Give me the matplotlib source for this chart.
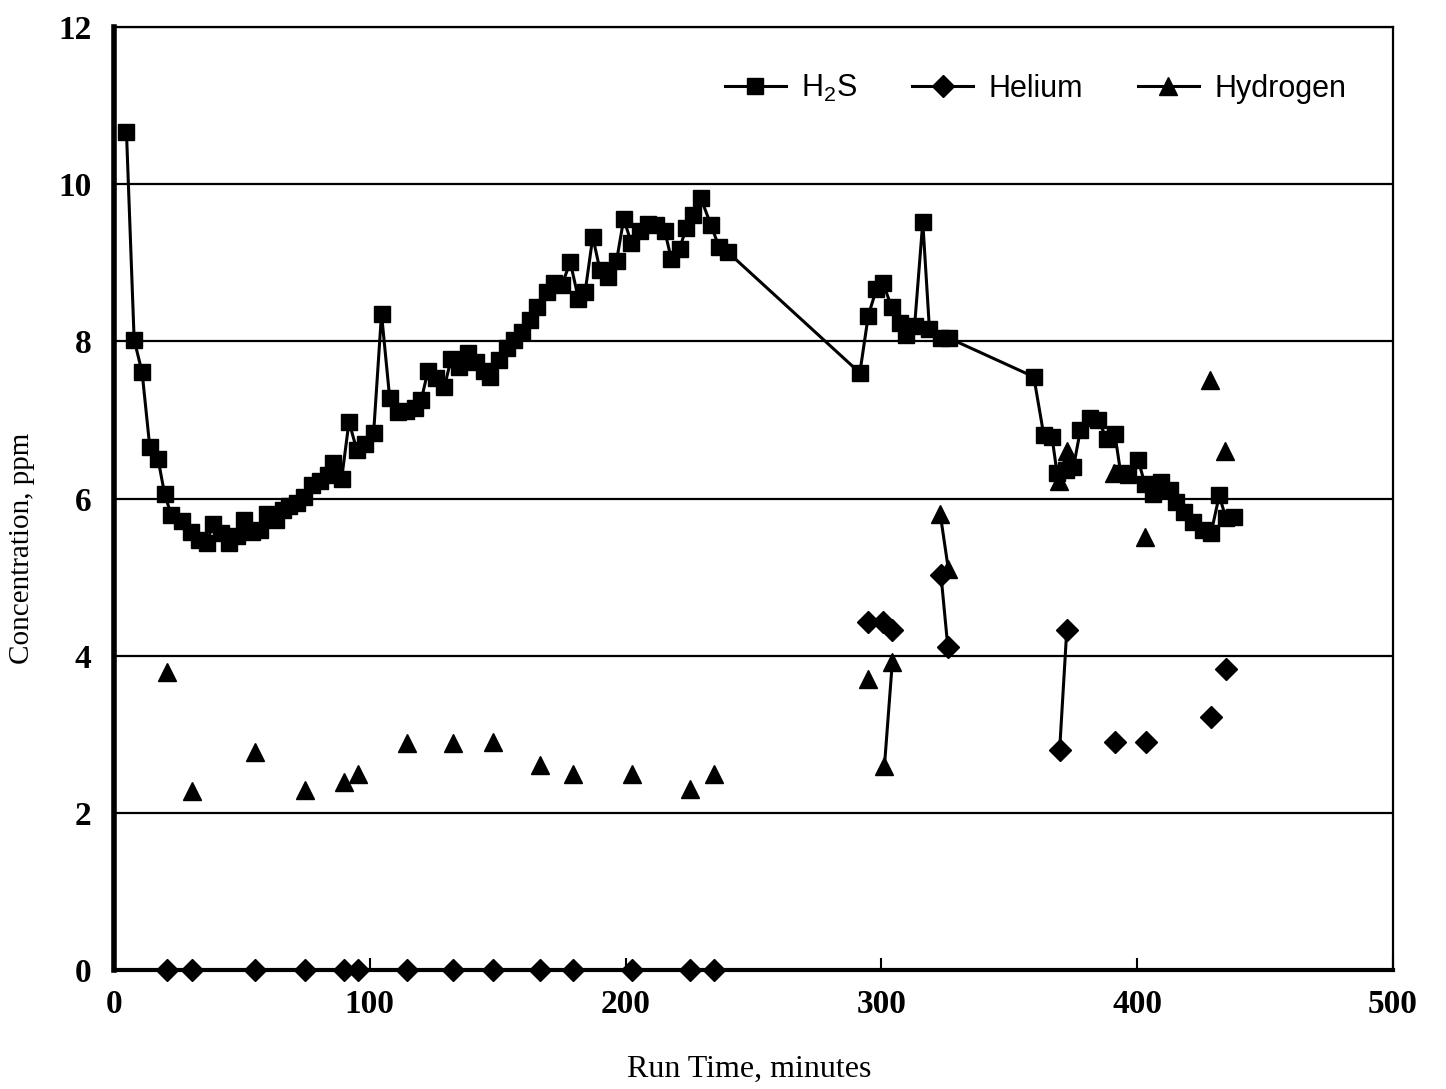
import numpy as np
import matplotlib
matplotlib.use("Agg")
import matplotlib.pyplot as plt

# H2S, ppm (every sample)
h2s_time = [4.9, 7.9, 11.0, 14.0, 17.2, 19.8, 22.4, 26.6, 30.0, 33.2, 36.2, 38.8,
            41.8, 45.0, 48.0, 51.0, 54.0, 57.0, 60.0, 63.2, 66.0, 68.5, 71.6, 74.2,
            77.4, 80.7, 83.5, 85.8, 89.0, 91.9, 94.9, 98.1, 101.5, 104.6, 107.8,
            111.1, 114.3, 117.5, 120.1, 122.7, 125.9, 129.2, 131.8, 135.0, 138.5,
            141.5, 144.5, 147.0, 150.6, 153.5, 156.4, 159.5, 162.8, 165.4, 169.3,
            171.9, 175.1, 178.4, 181.6, 184.2, 187.2, 190.0, 193.3, 196.5, 199.3,
            202.3, 205.6, 208.8, 212.0, 215.3, 217.9, 221.1, 223.7, 226.3, 229.5,
            233.4, 236.6, 239.9,
            291.6, 294.9, 298.1, 300.7, 304.0, 307.2, 309.8, 313.0, 316.2, 318.8,
            323.4, 326.6,
            359.6, 363.5, 366.7, 368.7, 372.0, 375.1, 377.8, 381.6, 384.8, 388.1,
            391.3, 393.6, 396.5, 400.4, 403.0, 406.2, 409.4, 412.7, 415.3, 418.5,
            421.7, 425.6, 428.9, 432.1, 434.7, 437.9]
h2s_ppm = [10.66, 8.02, 7.61, 6.66, 6.51, 6.06, 5.79, 5.71, 5.58, 5.47, 5.43, 5.68,
           5.56, 5.43, 5.52, 5.73, 5.58, 5.60, 5.80, 5.73, 5.85, 5.90, 5.94, 6.02,
           6.17, 6.23, 6.30, 6.45, 6.25, 6.98, 6.62, 6.70, 6.83, 8.35, 7.28,
           7.10, 7.12, 7.15, 7.25, 7.62, 7.53, 7.42, 7.78, 7.68, 7.85,
           7.74, 7.62, 7.55, 7.76, 7.92, 8.02, 8.12, 8.27, 8.44, 8.63,
           8.74, 8.72, 9.01, 8.54, 8.63, 9.33, 8.91, 8.82, 9.03, 9.56,
           9.25, 9.41, 9.50, 9.48, 9.41, 9.05, 9.18, 9.44, 9.61, 9.82,
           9.48, 9.20, 9.14,
           7.60, 8.33, 8.67, 8.74, 8.44, 8.23, 8.08, 8.20, 9.52, 8.16,
           8.04, 8.04,
           7.55, 6.81, 6.79, 6.32, 6.36, 6.40, 6.87, 7.02, 7.00, 6.76,
           6.82, 6.32, 6.30, 6.49, 6.19, 6.06, 6.21, 6.11, 5.96, 5.83,
           5.70, 5.60, 5.56, 6.04, 5.75, 5.77]

# Helium, ppm; points sharing a run number are joined by a line
helium_time = [20.6, 30.5, 55.0, 74.5, 89.8, 95.4, 114.4, 132.4, 148.0, 166.6,
               179.5, 202.5, 225.2, 234.4, 294.8, 300.8, 304.0, 323.3, 326.0,
               369.7, 372.5, 391.3, 403.5, 428.8, 434.6]
helium_ppm = [0, 0, 0, 0, 0, 0, 0, 0, 0, 0,
              0, 0, 0, 0, 4.43, 4.43, 4.33, 5.03, 4.11,
              2.80, 4.33, 2.90, 2.90, 3.22, 3.83]
helium_run = [1, 2, 3, 4, 5, 6, 7, 8, 9, 10,
              11, 12, 13, 14, 15, 16, 17, 18, 18,
              19, 19, 20, 21, 22, 23]

# Hydrogen, ppm
hydrogen_time = [20.6, 30.5, 55.0, 74.5, 89.8, 95.4, 114.4, 132.4, 148.0, 166.6,
                 179.5, 202.5, 225.2, 234.4, 294.8, 301.2, 304.3, 323.0, 326.2,
                 369.5, 372.5, 390.8, 403.0, 428.3, 434.2]
hydrogen_ppm = [3.79, 2.28, 2.78, 2.29, 2.39, 2.49, 2.89, 2.89, 2.90, 2.61,
                2.49, 2.49, 2.30, 2.49, 3.70, 2.59, 3.92, 5.81, 5.10,
                6.22, 6.60, 6.32, 5.51, 7.51, 6.60]
hydrogen_run = [1, 2, 3, 4, 5, 6, 7, 8, 9, 10,
                11, 12, 13, 14, 15, 16, 16, 17, 17,
                18, 18, 19, 20, 21, 22]

fig = plt.figure(figsize=(14.46, 10.89), dpi=100)
ax = fig.add_axes([0.0788, 0.1093, 0.8845, 0.8657])

serif = "Liberation Serif"
sans = "Liberation Sans"
plt.rcParams["mathtext.fontset"] = "custom"
plt.rcParams["mathtext.rm"] = sans

ax.plot(h2s_time, h2s_ppm, color="black", lw=2.2, marker="s", ms=12,
        clip_on=False, zorder=4, label=r"$\mathregular{H_2S}$")


def draw_runs(times, vals, runs, marker, ms, label):
    times = np.array(times)
    vals = np.array(vals)
    runs = np.array(runs)
    first = True
    for r in np.unique(runs):
        m = runs == r
        ax.plot(times[m], vals[m], color="black", lw=2.2, marker=marker, ms=ms,
                clip_on=False, zorder=5, label=label if first else None)
        first = False


draw_runs(helium_time, helium_ppm, helium_run, "D", 11.5, "Helium")
draw_runs(hydrogen_time, hydrogen_ppm, hydrogen_run, "^", 13, "Hydrogen")

ax.set_xlim(0, 500)
ax.set_ylim(0, 12)
ax.set_xticks(np.arange(0, 501, 100))
ax.set_yticks(np.arange(0, 13, 2))
ax.yaxis.grid(True, color="black", lw=1.6)
ax.set_axisbelow(True)

for side, w in (("left", 4.0), ("bottom", 3.0), ("top", 1.6), ("right", 1.6)):
    ax.spines[side].set_linewidth(w)

ax.tick_params(axis="x", direction="in", length=9, width=1.5, pad=14)
ax.tick_params(axis="y", length=0, pad=16)
for lab in ax.get_xticklabels() + ax.get_yticklabels():
    lab.set_fontfamily(serif)
    lab.set_fontsize(24)
    lab.set_fontweight("bold")

ax.set_xlabel("Run Time, minutes", fontsize=23, family=serif)
ax.set_ylabel("Concentration, ppm", fontsize=21, family=serif)
ax.xaxis.set_label_coords(0.497, -0.090)
ax.yaxis.set_label_coords(-0.062, 0.447)

leg = ax.legend(loc="center right", bbox_to_anchor=(0.985, 0.935), ncol=3,
                frameon=False, prop={"family": sans, "size": 22},
                handlelength=2.0, handletextpad=0.5, columnspacing=1.8)

fig.savefig("out.png", dpi=100)
